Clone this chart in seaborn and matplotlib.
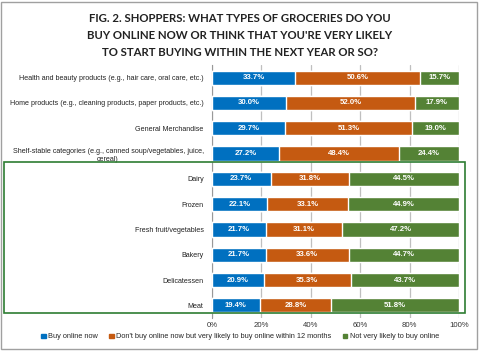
import matplotlib
matplotlib.use("Agg")
import matplotlib.pyplot as plt
import seaborn as sns
import pandas as pd
import numpy as np
from matplotlib.patches import Rectangle, Patch

categories = [
    "Health and beauty products (e.g., hair care, oral care, etc.)",
    "Home products (e.g., cleaning products, paper products, etc.)",
    "General Merchandise",
    "Shelf-stable categories (e.g., canned soup/vegetables, juice,\ncereal)",
    "Dairy", "Frozen", "Fresh fruit/vegetables", "Bakery", "Delicatessen", "Meat",
]
buy_now = [33.7, 30.0, 29.7, 27.2, 23.7, 22.1, 21.7, 21.7, 20.9, 19.4]
likely = [50.6, 52.0, 51.3, 48.4, 31.8, 33.1, 31.1, 33.6, 35.3, 28.8]
not_likely = [15.7, 17.9, 19.0, 24.4, 44.5, 44.9, 47.2, 44.7, 43.7, 51.8]
series_names = ["Buy online now",
                "Don't buy online now but very likely to buy online within 12 months",
                "Not very likely to buy online"]
colors = ["#0070C0", "#C55A11", "#548235"]

df = pd.DataFrame({"cat": categories, "a": buy_now, "b": likely, "c": not_likely})
df["ab"] = df["a"] + df["b"]
df["abc"] = df["ab"] + df["c"]

sns.set_style("white")
plt.rcParams["font.family"] = ["Liberation Sans", "DejaVu Sans"]

fig = plt.figure(figsize=(4.8, 3.52), dpi=100)
ax = fig.add_axes([212/480, 1-318/352, 247/480, 253/352])

w = 0.56
sns.barplot(data=df, y="cat", x="abc", color=colors[2], width=w, ax=ax, saturation=1, orient="h", zorder=3)
sns.barplot(data=df, y="cat", x="ab", color=colors[1], width=w, ax=ax, saturation=1, orient="h", zorder=3)
sns.barplot(data=df, y="cat", x="a", color=colors[0], width=w, ax=ax, saturation=1, orient="h", zorder=3)

for i, (a, b, c) in enumerate(zip(buy_now, likely, not_likely)):
    for left, val in [(0, a), (a, b), (a + b, c)]:
        ax.text(left + val / 2, i, f"{val:.1f}%", ha="center", va="center",
                color="white", fontsize=5.6, fontweight="bold", zorder=4)

ax.set_xlim(0, 100)
ax.set_ylim(9.5, -0.5)
ax.set_xticks(np.arange(0, 101, 20))
ax.set_xticklabels([f"{t}%" for t in range(0, 101, 20)], fontsize=5.6, color="#333333")
ax.set_yticks(range(len(categories)))
ax.set_yticklabels(categories, fontsize=5.1, color="#222222")
for lab in ax.get_yticklabels():
    lab.set_multialignment("center")
ax.set_yticks(np.arange(-0.5, 10, 1), minor=True)
ax.tick_params(axis="y", which="major", length=0, pad=6)
ax.tick_params(axis="y", which="minor", length=3, color="#999999", direction="out")
ax.tick_params(axis="x", length=0, pad=3)
ax.xaxis.grid(True, color="#BFBFBF", linewidth=0.9, zorder=0)
ax.set_xlabel("")
ax.set_ylabel("")
for s in ["top", "right", "bottom"]:
    ax.spines[s].set_visible(False)
ax.spines["left"].set_color("#999999")
ax.spines["left"].set_linewidth(0.8)

fig.text(0.5, 1-13/352, "FIG. 2. SHOPPERS: WHAT TYPES OF GROCERIES DO YOU\nBUY ONLINE NOW OR THINK THAT YOU'RE VERY LIKELY\nTO START BUYING WITHIN THE NEXT YEAR OR SO?",
         ha="center", va="top", fontsize=8.2, fontweight="bold", color="#222222",
         family=["Lato", "DejaVu Sans"], linespacing=1.65)

# green highlight box
fig.patches.append(Rectangle((4/480, 1-313/352), 461/480, 151/352, transform=fig.transFigure,
                             fill=False, edgecolor="#2E7D32", linewidth=1.2, zorder=5))
# outer border
fig.patches.append(Rectangle((1/480, 1-349/352), 476/480, 347/352, transform=fig.transFigure,
                             fill=False, edgecolor="#A0A0A0", linewidth=1.0, zorder=5))

handles = [Patch(color=c) for c in colors]
fig.legend(handles, series_names, loc="center", bbox_to_anchor=(0.5, 1-337/352), ncol=3,
           frameon=False, fontsize=5.3, handlelength=0.6, handleheight=0.6,
           handletextpad=0.3, columnspacing=1.6)

fig.savefig("out.png", dpi=100)
